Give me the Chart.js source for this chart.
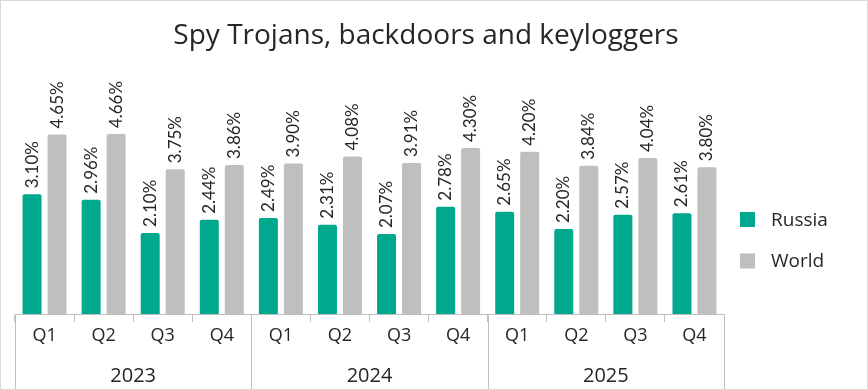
<!DOCTYPE html>
<html>
<head>
<meta charset="utf-8">
<script src="https://cdn.jsdelivr.net/npm/chart.js@4"></script>
<style>
  html, body { margin: 0; padding: 0; background: #fff; }
  #wrap { width: 868px; height: 390px; }
</style>
</head>
<body>
<div id="wrap"><canvas id="spyChart" width="868" height="390"></canvas></div>
<script>
// dados do gráfico
const quarters = ['Q1', 'Q2', 'Q3', 'Q4', 'Q1', 'Q2', 'Q3', 'Q4', 'Q1', 'Q2', 'Q3', 'Q4'];
const years = ['2023', '2024', '2025'];
const russia = [3.10, 2.96, 2.10, 2.44, 2.49, 2.31, 2.07, 2.78, 2.65, 2.20, 2.57, 2.61];
const world = [4.65, 4.66, 3.75, 3.86, 3.90, 4.08, 3.91, 4.30, 4.20, 3.84, 4.04, 3.80];
const seriesNames = ['Russia', 'World'];
const seriesColors = ['#00a88e', '#bfbfbf'];
const chartTitle = 'Spy Trojans, backdoors and keyloggers';

const FONT = '"Open Sans", Lato, sans-serif';
const LABEL_FONT = 'Lato, "Open Sans", sans-serif';
const TEXT = '#262626';
const LINE = '#bfbfbf';

// rótulos de valor girados acima das barras
const valueLabels = {
    id: 'valueLabels',
    afterDatasetsDraw(chart) {
        const ctx = chart.ctx;
        ctx.save();
        ctx.font = '17px ' + LABEL_FONT;
        ctx.fillStyle = TEXT;
        ctx.textAlign = 'left';
        ctx.textBaseline = 'middle';
        chart.data.datasets.forEach((ds, di) => {
            chart.getDatasetMeta(di).data.forEach((bar, i) => {
                ctx.save();
                ctx.translate(bar.x, bar.y - 6);
                ctx.rotate(-Math.PI / 2);
                ctx.fillText(ds.data[i].toFixed(2) + '%', 0, 0);
                ctx.restore();
            });
        });
        ctx.restore();
    }
};

// título, segundo nível do eixo x (anos), separadores, legenda e moldura
const decorations = {
    id: 'decorations',
    afterDraw(chart) {
        const ctx = chart.ctx;
        const x = chart.scales.x;
        const top = chart.chartArea.bottom;
        const per = quarters.length / years.length;
        ctx.save();

        ctx.font = '28px ' + FONT;
        ctx.fillStyle = TEXT;
        ctx.textAlign = 'center';
        ctx.textBaseline = 'alphabetic';
        ctx.fillText(chartTitle, 426, 44);

        ctx.strokeStyle = LINE;
        ctx.lineWidth = 1;
        for (let k = 0; k <= years.length; k++) {
            const px = Math.round(x.getPixelForValue(k * per - 0.5)) + 0.5;
            ctx.beginPath();
            ctx.moveTo(px, top);
            ctx.lineTo(px, chart.height);
            ctx.stroke();
        }
        ctx.font = '20px ' + FONT;
        ctx.textBaseline = 'middle';
        years.forEach((y, k) => {
            const a = x.getPixelForValue(k * per - 0.5);
            const b = x.getPixelForValue((k + 1) * per - 0.5);
            ctx.fillText(y, (a + b) / 2, 376);
        });

        // legenda
        const legendY = [219.5, 261];
        ctx.font = '19px ' + FONT;
        ctx.textAlign = 'left';
        seriesNames.forEach((name, i) => {
            ctx.fillStyle = seriesColors[i];
            ctx.fillRect(740, legendY[i] - 7.5, 15, 15);
            ctx.fillStyle = TEXT;
            ctx.fillText(name, 771, legendY[i] + 1);
        });

        // moldura
        ctx.strokeStyle = '#d9d9d9';
        ctx.strokeRect(0.5, 0.5, chart.width - 1, chart.height - 1);
        ctx.restore();
    }
};

new Chart(document.getElementById('spyChart'), {
    type: 'bar',
    data: {
        labels: quarters,
        datasets: seriesNames.map((name, i) => ({
            label: name,
            data: i === 0 ? russia : world,
            backgroundColor: seriesColors[i],
            borderRadius: { topLeft: 2, topRight: 2 },
            borderSkipped: 'bottom',
            categoryPercentage: 0.846,
            barPercentage: 0.76
        }))
    },
    options: {
        responsive: false,
        animation: false,
        layout: { padding: { left: 15, right: 144, top: 60, bottom: 0 } },
        plugins: {
            legend: { display: false },
            tooltip: { enabled: false },
            title: { display: false }
        },
        scales: {
            y: { display: false, min: 0, max: 6.58 },
            x: {
                offset: true,
                grid: { offset: true, drawOnChartArea: false, tickLength: 8, color: LINE },
                border: { color: LINE },
                ticks: { color: TEXT, font: { family: FONT, size: 18 }, padding: 3, maxRotation: 0 },
                afterFit(scale) { scale.height = 76; }
            }
        }
    },
    plugins: [valueLabels, decorations]
});
</script>
</body>
</html>
